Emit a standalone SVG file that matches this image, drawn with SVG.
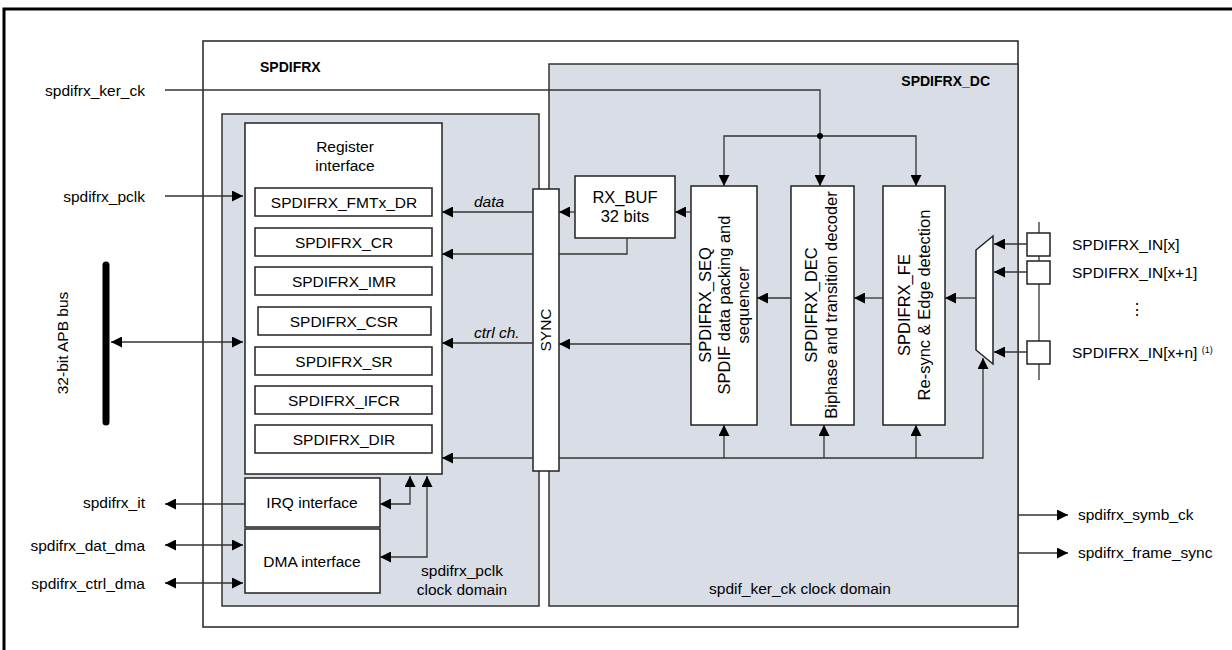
<svg xmlns="http://www.w3.org/2000/svg" width="1232" height="650" viewBox="0 0 1232 650">
<style>
text{font-family:"Liberation Sans",Arial,sans-serif;font-size:15.5px;fill:#000}
.b{fill:#fff;stroke:#222;stroke-width:1.5}
.d{fill:#d9dde5;stroke:#333;stroke-width:1.5}
.l{fill:none;stroke:#333;stroke-width:1.3}
.bold{font-weight:bold;font-size:14px}
.c{text-anchor:middle}
.r{text-anchor:end}
.i{font-style:italic}
.v{font-size:16.5px}
</style>
<defs>
<marker id="a" viewBox="0 0 10 10" refX="10" refY="5" markerWidth="11" markerHeight="11" markerUnits="userSpaceOnUse" orient="auto-start-reverse"><path d="M0,0L10,5L0,10z" fill="#000"/></marker>
</defs>
<rect x="4" y="9" width="1240" height="650" fill="#fff" stroke="#000" stroke-width="3"/>
<g id="spdifrx"><rect x="203" y="41" width="815" height="586" fill="#fff" stroke="#222" stroke-width="1.5"/><text x="260" y="72" class="bold">SPDIFRX</text></g>
<g id="dc"><rect x="549" y="64" width="469" height="542" class="d"/><text x="990" y="86" class="bold r">SPDIFRX_DC</text><text x="800" y="594" class="c">spdif_ker_ck  clock domain</text></g>
<g id="pclkdom"><rect x="222" y="114" width="317" height="492" class="d"/><text x="462" y="576" class="c">spdifrx_pclk</text><text x="462" y="595" class="c">clock domain</text></g>
<g id="regif"><rect x="245" y="123" width="197" height="351" class="b"/><text x="345" y="152" class="c">Register</text><text x="345" y="171" class="c">interface</text>
<rect x="255" y="188" width="177" height="28" class="b"/><text x="344" y="208" class="c">SPDIFRX_FMTx_DR</text>
<rect x="255" y="228" width="177" height="28" class="b"/><text x="344" y="248" class="c">SPDIFRX_CR</text>
<rect x="255" y="267" width="177" height="28" class="b"/><text x="344" y="287" class="c">SPDIFRX_IMR</text>
<rect x="258" y="307" width="173" height="28" class="b"/><text x="344" y="327" class="c">SPDIFRX_CSR</text>
<rect x="255" y="347" width="177" height="28" class="b"/><text x="344" y="367" class="c">SPDIFRX_SR</text>
<rect x="255" y="386" width="177" height="28" class="b"/><text x="344" y="406" class="c">SPDIFRX_IFCR</text>
<rect x="255" y="425" width="177" height="28" class="b"/><text x="344" y="445" class="c">SPDIFRX_DIR</text></g>
<g id="irq"><rect x="245" y="478" width="135" height="49" class="b"/><text x="312" y="508" class="c">IRQ interface</text></g>
<g id="dma"><rect x="245" y="529" width="135" height="64" class="b"/><text x="312" y="567" class="c">DMA interface</text></g>
<g id="sync"><rect x="533" y="189" width="26" height="282" class="b"/><text transform="translate(551,330) rotate(-90)" class="c">SYNC</text></g>
<g id="rxbuf"><rect x="575" y="176" width="100" height="62" class="b"/><text x="625" y="203" class="c v">RX_BUF</text><text x="625" y="222" class="c v">32 bits</text></g>
<g id="seq"><rect x="691" y="186" width="66" height="239" class="b"/>
<text transform="translate(711,305) rotate(-90)" class="c v">SPDIFRX_SEQ</text><text transform="translate(730,305) rotate(-90)" class="c v">SPDIF data packing and</text><text transform="translate(749,305) rotate(-90)" class="c v">sequencer</text></g>
<g id="dec"><rect x="791" y="186" width="63" height="239" class="b"/><text transform="translate(817,305) rotate(-90)" class="c v">SPDIFRX_DEC</text><text transform="translate(837,305) rotate(-90)" class="c v">Biphase and transition decoder</text></g>
<g id="fe"><rect x="883" y="186" width="62" height="239" class="b"/><text transform="translate(910,305) rotate(-90)" class="c v">SPDIFRX_FE</text><text transform="translate(930,305) rotate(-90)" class="c v">Re-sync &amp; Edge detection</text></g>
<g id="mux"><path d="M976,250L993,236V364L976,350Z" class="b"/></g>
<g id="pads"><line x1="1039" y1="222" x2="1039" y2="380" class="l"/>
<rect x="1027" y="233" width="23" height="23" class="b"/><rect x="1027" y="261" width="23" height="23" class="b"/><rect x="1027" y="341" width="23" height="23" class="b"/>
<text x="1072" y="250">SPDIFRX_IN[x]</text><text x="1072" y="278">SPDIFRX_IN[x+1]</text><text x="1137" y="315" class="c">⋮</text>
<text x="1072" y="358">SPDIFRX_IN[x+n] <tspan font-size="9" dy="-5">(1)</tspan></text></g>
<g id="apb"><line x1="106" y1="265" x2="106" y2="422" stroke="#000" stroke-width="7" stroke-linecap="round"/><text transform="translate(68,343) rotate(-90)" class="c">32-bit APB bus</text></g>
<g id="labels">
<text x="145" y="96" class="r">spdifrx_ker_ck</text>
<text x="145" y="202" class="r">spdifrx_pclk</text>
<text x="145" y="508" class="r">spdifrx_it</text>
<text x="145" y="551" class="r">spdifrx_dat_dma</text>
<text x="145" y="589" class="r">spdifrx_ctrl_dma</text>
<text x="1078" y="520">spdifrx_symb_ck</text>
<text x="1078" y="558">spdifrx_frame_sync</text>
<text x="474" y="207" class="i">data</text>
<text x="474" y="338" class="i">ctrl ch.</text>
</g>
<g id="connectors" class="l" marker-end="url(#a)">
<path d="M165,90H820V136H724V186"/>
<path d="M820,136V186"/>
<path d="M820,136H916V186"/>
<circle cx="820" cy="136" r="3" fill="#000" stroke="none"/>
<path d="M165,196H243"/>
<path d="M111,342H243" marker-start="url(#a)"/>
<path d="M691,212H675"/>
<path d="M575,212H559"/>
<path d="M533,212H442"/>
<path d="M627,238V254H559" marker-end="none"/>
<path d="M533,254H442"/>
<path d="M691,344H559"/>
<path d="M533,343H442"/>
<path d="M791,298H757"/>
<path d="M883,298H854"/>
<path d="M976,298H945"/>
<path d="M1027,244H994"/>
<path d="M1027,272H994"/>
<path d="M1027,352H994"/>
<path d="M533,458H442"/>
<path d="M559,458H983V358"/>
<path d="M724,458V425"/>
<path d="M824,458V425"/>
<path d="M916,458V425"/>
<path d="M245,504H165"/>
<path d="M165,545H243" marker-start="url(#a)"/>
<path d="M165,583H243" marker-start="url(#a)"/>
<path d="M380,504H410V476" marker-start="url(#a)"/>
<path d="M380,557H427V476" marker-start="url(#a)"/>
<path d="M1018,515H1068"/>
<path d="M1018,553H1068"/>
</g>
</svg>
